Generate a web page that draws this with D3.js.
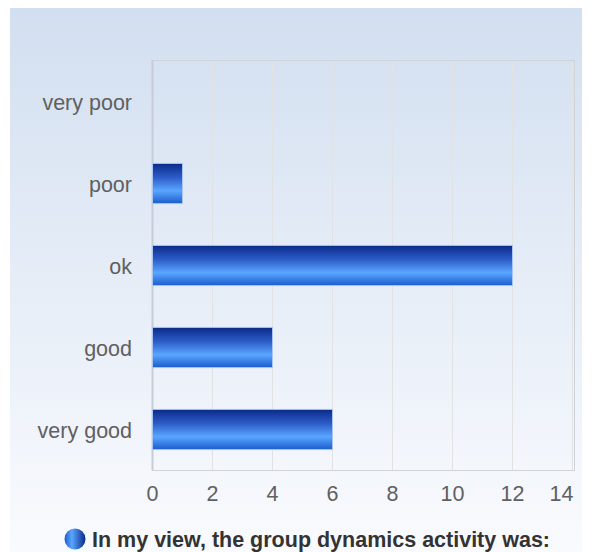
<!DOCTYPE html>
<html><head><meta charset="utf-8">
<script src="https://cdn.jsdelivr.net/npm/d3@7"></script>
<style>body{margin:0;background:#fff}svg{display:block;font-family:Arial,"Liberation Sans",sans-serif}</style>
</head><body><div id="c"></div>
<script>
const categories = ["very poor","poor","ok","good","very good"];
const values = [0,1,12,4,6];
const xTicks = [0,2,4,6,8,10,12,14];
const legendLabel = "In my view, the group dynamics activity was:";

const W=596,H=552;
const FONT="Arial,'Liberation Sans',sans-serif";
const FS=21.5;
const svg=d3.select("#c").append("svg").attr("width",W).attr("height",H);
const defs=svg.append("defs");
const bg=defs.append("linearGradient").attr("id","bg").attr("x1",0).attr("y1",0).attr("x2",0).attr("y2",1);
bg.append("stop").attr("offset","0%").attr("stop-color","#d2dff0");
bg.append("stop").attr("offset","100%").attr("stop-color","#fafbfe");
const bar=defs.append("linearGradient").attr("id","bar").attr("x1",0).attr("y1",0).attr("x2",0).attr("y2",1);
[["0%","#0a2a8a"],["35%","#2c5cc8"],["68%","#5aa6ff"],["100%","#1a5ccc"]].forEach(s=>bar.append("stop").attr("offset",s[0]).attr("stop-color",s[1]));
const leg=defs.append("linearGradient").attr("id","leg").attr("x1",0).attr("y1",0).attr("x2",1).attr("y2",0);
[["0%","#1a5ccc"],["35%","#5aa6ff"],["100%","#0a2a8a"]].forEach(s=>leg.append("stop").attr("offset",s[0]).attr("stop-color",s[1]));

svg.append("rect").attr("x",10).attr("y",8).attr("width",572).attr("height",H).attr("fill","url(#bg)");

const L=152,T=60,R=572,B=470;
const x=d3.scaleLinear().domain([0,14]).range([L,R]);
const y=d3.scaleBand().domain(categories).range([T,B]).paddingInner(0.51).paddingOuter(0.255);

const g=svg.append("g");
g.selectAll("line.grid").data(xTicks.slice(1)).join("line")
 .attr("x1",d=>x(d)+0.5).attr("x2",d=>x(d)+0.5).attr("y1",T).attr("y2",B)
 .attr("stroke","#e2e2e2").attr("stroke-width",1);
g.append("rect").attr("x",L+0.5).attr("y",T+0.5).attr("width",574-L).attr("height",B-T)
 .attr("fill","none").attr("stroke","#cfd3da");
g.append("line").attr("x1",L+0.5).attr("x2",L+0.5).attr("y1",T).attr("y2",B).attr("stroke","#c8ccd6").attr("stroke-width",2);

g.selectAll("rect.bar").data(categories.map((c,i)=>({c,v:values[i]})).filter(d=>d.v>0)).join("rect")
 .attr("x",x(0)+0.5).attr("y",d=>y(d.c)+0.5).attr("width",d=>x(d.v)-x(0)).attr("height",y.bandwidth())
 .attr("fill","url(#bar)").attr("stroke","#aac4f0").attr("stroke-width",1);

const xa=svg.append("g").attr("transform",`translate(0,${B})`)
 .call(d3.axisBottom(x).tickValues(xTicks).tickSize(0).tickPadding(16));
xa.select(".domain").remove();
xa.selectAll("text").attr("font-size",FS).attr("fill","#606060").attr("font-family",FONT);
xa.selectAll(".tick").filter(d=>d===14).select("text").attr("text-anchor","end").attr("x",1);

const ya=svg.append("g").attr("transform",`translate(${L},0)`)
 .call(d3.axisLeft(y).tickSize(0).tickPadding(20));
ya.select(".domain").remove();
ya.selectAll("text").attr("font-size",FS).attr("fill","#606060").attr("font-family",FONT).attr("y",2);

svg.append("circle").attr("cx",75).attr("cy",539).attr("r",10.5).attr("fill","url(#leg)");
svg.append("text").attr("x",92).attr("y",547).attr("font-size",FS).attr("font-weight","bold").attr("fill","#333").attr("font-family",FONT).text(legendLabel);
</script></body></html>
